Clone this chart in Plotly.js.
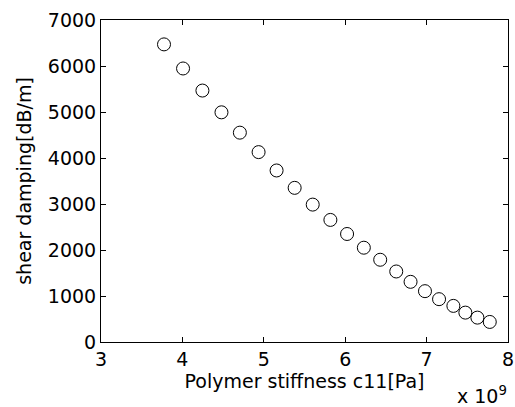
<!DOCTYPE html>
<html><head><meta charset="utf-8">
<script src="https://cdn.plot.ly/plotly-3.0.1.min.js"></script>
<style>body{margin:0;background:#fff}#c{width:515px;height:407px}</style>
</head><body><div id="c"></div>
<script>
const stiffness = [3.774,4.008,4.246,4.48,4.706,4.936,5.157,5.379,5.601,5.818,6.023,6.229,6.43,6.627,6.803,6.98,7.153,7.329,7.476,7.624,7.776];
const damping = [6470,5946,5466,4993,4551,4128,3729,3351,2987,2654,2348,2050,1788,1533,1308,1105,931,785,639,530,436];
const xTicks = [3,4,5,6,7,8];
const yTicks = [0,1000,2000,3000,4000,5000,6000,7000];
const font = {family:'DejaVu Sans, Arial, sans-serif', size:19, color:'#000'};
const axisCommon = {showline:true, linecolor:'#000', linewidth:1, mirror:'ticks', ticks:'inside', ticklen:5, tickcolor:'#000', showgrid:false, zeroline:false, tickfont:font};
Plotly.newPlot('c', [{
  x: stiffness, y: damping, mode:'markers', type:'scatter',
  marker:{symbol:'circle-open', size:13, color:'#000', line:{width:1, color:'#000'}}
}], {
  width:515, height:407, margin:{l:101, r:7, t:20, b:65},
  paper_bgcolor:'#fff', plot_bgcolor:'#fff', showlegend:false, font:font,
  xaxis:Object.assign({}, axisCommon, {range:[3,8], tickvals:xTicks, ticktext:xTicks.map(String), title:{text:'Polymer stiffness c11[Pa]', font:font, standoff:4}}),
  yaxis:Object.assign({}, axisCommon, {range:[0,7000], tickvals:yTicks, ticktext:yTicks.map(String), title:{text:'shear damping[dB/m]', font:font, standoff:11}}),
  annotations:[{xref:'paper', yref:'paper', x:1.003, y:-0.207, xanchor:'right', yanchor:'bottom', showarrow:false, text:'x 10<sup>9</sup>', font:font}]
}, {staticPlot:true});
</script></body></html>
